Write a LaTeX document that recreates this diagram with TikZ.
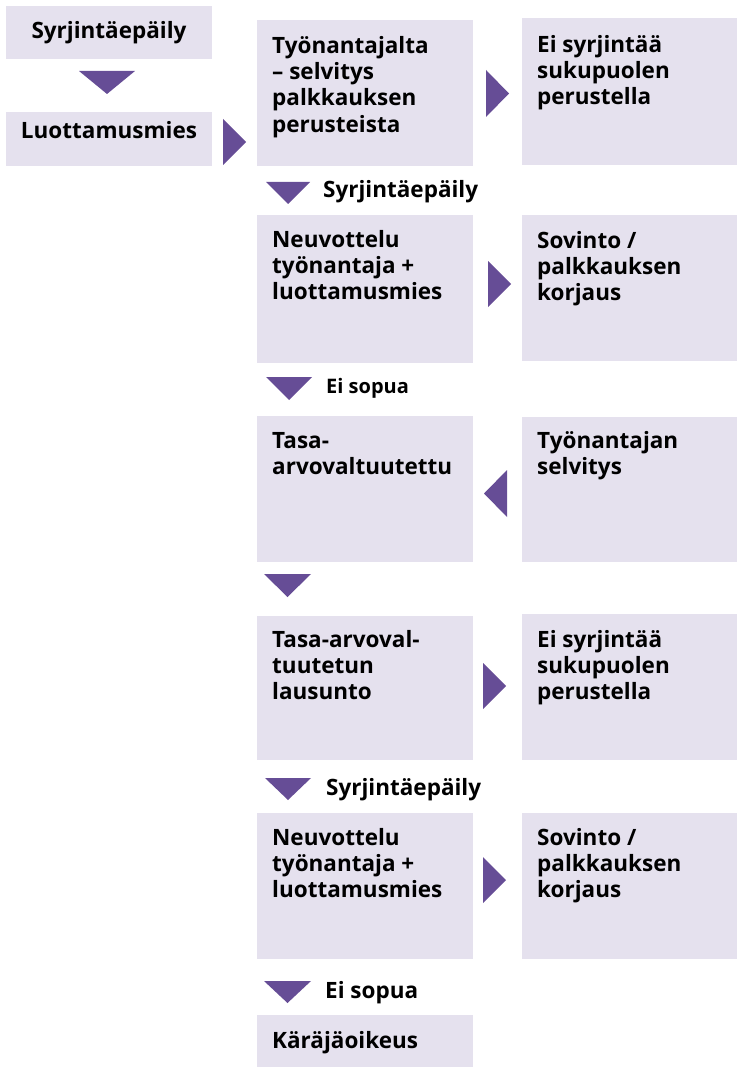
\documentclass[tikz,border=0pt]{standalone}
\usepackage{fontspec}
\setmainfont{Open Sans}
\usetikzlibrary{fit}
\definecolor{boxfill}{HTML}{E5E1EE}
\definecolor{arrowpurple}{HTML}{664D96}
\tikzset{
  box/.style={fill=boxfill, draw=none, inner sep=0pt},
  txt/.style={font=\fontsize{22.5}{26.3}\selectfont\bfseries, inner sep=0pt, align=left, text=black},
  smalltxt/.style={font=\fontsize{20}{23}\selectfont\bfseries, inner sep=0pt, text=black},
  tri/.style={fill=arrowpurple, draw=none},
}
\begin{document}
\begin{tikzpicture}[x=1pt,y=-1pt]
\useasboundingbox (0,0) rectangle (741,1067);
% boxes
\node[box, fit={(6,6) (212,59)}] (b0) {};
\node[box, fit={(6,112) (212,166)}] (b1) {};
\node[box, fit={(257,20) (473,166)}] (b2) {};
\node[box, fit={(522,18) (737,165)}] (b3) {};
\node[box, fit={(257,215) (473,363)}] (b4) {};
\node[box, fit={(522,215) (737,361)}] (b5) {};
\node[box, fit={(257,416) (473,562)}] (b6) {};
\node[box, fit={(522,417) (737,562)}] (b7) {};
\node[box, fit={(257,616) (473,760)}] (b8) {};
\node[box, fit={(522,614) (737,760)}] (b9) {};
\node[box, fit={(257,813) (473,959)}] (b10) {};
\node[box, fit={(522,813) (737,959)}] (b11) {};
\node[box, fit={(257,1015) (473,1067)}] (b12) {};
% box texts
\node[txt, anchor=base] (l0) at (109,39) {Syrjintäepäily};
\node[txt, anchor=base] (l1) at (109,139) {Luottamusmies};
\node[txt, anchor=north west] (l2) at (272,34.6) {\strut Työnantajalta\\– selvitys\\palkkauksen\\perusteista};
\node[txt, anchor=north west] (l3) at (537,33.6) {\strut Ei syrjintää\\sukupuolen\\perustella};
\node[txt, anchor=north west] (l4) at (272,228.6) {\strut Neuvottelu\\työnantaja +\\luottamusmies};
\node[txt, anchor=north west] (l5) at (537,229.6) {\strut Sovinto /\\palkkauksen\\korjaus};
\node[txt, anchor=north west] (l6) at (272,429.6) {\strut Tasa-\\arvovaltuutettu};
\node[txt, anchor=north west] (l7) at (537,429.6) {\strut Työnantajan\\selvitys};
\node[txt, anchor=north west] (l8) at (272,628.6) {\strut Tasa-arvoval-\\tuutetun\\lausunto};
\node[txt, anchor=north west] (l9) at (537,628.6) {\strut Ei syrjintää\\sukupuolen\\perustella};
\node[txt, anchor=north west] (l10) at (272,826.6) {\strut Neuvottelu\\työnantaja +\\luottamusmies};
\node[txt, anchor=north west] (l11) at (537,826.6) {\strut Sovinto /\\palkkauksen\\korjaus};
\node[txt, anchor=base west] (l12) at (272,1048) {Käräjäoikeus};
% arrow labels
\node[txt, anchor=base west] (a3) at (323,198) {Syrjintäepäily};
\node[smalltxt, anchor=base west] (a5) at (326,393) {Ei sopua};
\node[txt, anchor=base west] (a9) at (326,795) {Syrjintäepäily};
\node[txt, anchor=base west] (a11) at (325,998) {Ei sopua};
% triangles
\fill[tri] (79,71) -- (135,71) -- (107,94) -- cycle;
\fill[tri] (223,119) -- (246,142) -- (223,165) -- cycle;
\fill[tri] (486,70) -- (509,93.5) -- (486,117) -- cycle;
\fill[tri] (266,182) -- (310,182) -- (288,204) -- cycle;
\fill[tri] (488,261) -- (511,284) -- (488,307) -- cycle;
\fill[tri] (266,377) -- (312,377) -- (289,400) -- cycle;
\fill[tri] (507,470) -- (484,493.5) -- (507,517) -- cycle;
\fill[tri] (264,574) -- (311,574) -- (287.5,597) -- cycle;
\fill[tri] (483,663) -- (506,686) -- (483,709) -- cycle;
\fill[tri] (265,778) -- (311,778) -- (288,800) -- cycle;
\fill[tri] (483,857) -- (506,880) -- (483,903) -- cycle;
\fill[tri] (264,981) -- (311,981) -- (287.5,1003) -- cycle;
\end{tikzpicture}
\end{document}
